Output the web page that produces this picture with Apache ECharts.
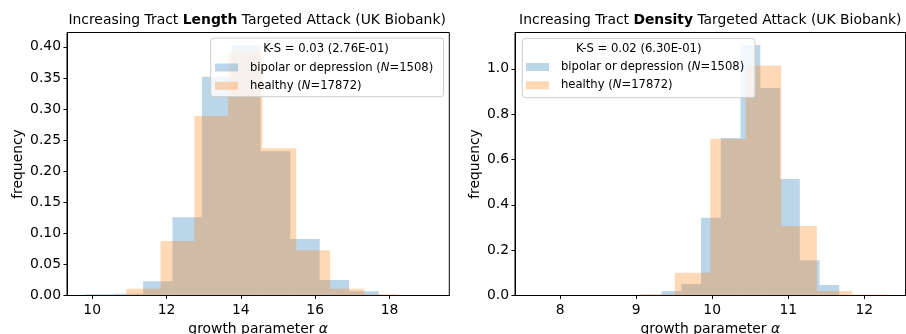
<!DOCTYPE html>
<html>
<head>
<meta charset="utf-8">
<script src="https://cdn.jsdelivr.net/npm/echarts@6/dist/echarts.min.js"></script>
<style>
html,body{margin:0;padding:0;background:#fff;}
#chart{width:906px;height:334px;}
</style>
</head>
<body>
<div id="chart"></div>
<script>
// ---------------- data ----------------
const seriesNames = ['bipolar or depression (N=1508)', 'healthy (N=17872)'];
const titleLeft = ['Increasing Tract ', 'Length', ' Targeted Attack (UK Biobank)'];
const titleRight = ['Increasing Tract ', 'Density', ' Targeted Attack (UK Biobank)'];
const ksLeft = 'K-S = 0.03 (2.76E-01)';
const ksRight = 'K-S = 0.02 (6.30E-01)';

// Left panel: tract length attack
const blueEdgesL = [9.79, 10.58, 11.37, 12.16, 12.95, 13.74, 14.53, 15.33, 16.12, 16.91, 17.71];
const blueFreqL = [0.002, 0.003, 0.023, 0.126, 0.352, 0.403, 0.232, 0.091, 0.025, 0.007];
const orangeEdgesL = [10.01, 10.92, 11.84, 12.75, 13.66, 14.58, 15.49, 16.40, 17.32, 18.23, 19.14];
const orangeFreqL = [0.0005, 0.011, 0.0875, 0.289, 0.393, 0.237, 0.073, 0.011, 0.002, 0.0005];

// Right panel: tract density attack
const blueEdgesR = [9.074, 9.334, 9.594, 9.853, 10.113, 10.373, 10.633, 10.892, 11.152, 11.412, 11.671];
const blueFreqR = [0.003, 0.02, 0.051, 0.343, 0.695, 1.105, 0.915, 0.514, 0.156, 0.046];
const orangeEdgesR = [7.64, 8.107, 8.574, 9.041, 9.508, 9.975, 10.442, 10.909, 11.376, 11.843, 12.31];
const orangeFreqR = [0.0001, 0, 0, 0.005, 0.10, 0.69, 1.015, 0.307, 0.02, 0.004];

// tick labels
const xTicksL = [10, 12, 14, 16, 18];
const yTicksL = [0, 0.05, 0.10, 0.15, 0.20, 0.25, 0.30, 0.35, 0.40];
const xTicksR = [8, 9, 10, 11, 12];
const yTicksR = [0, 0.2, 0.4, 0.6, 0.8, 1.0];

// ---------------- styling ----------------
const FONT = 'DejaVu Sans';
const BLUE = 'rgba(31,119,180,0.3)';
const ORANGE = 'rgba(255,127,14,0.3)';
const AX = '#000';

function pad(lo, hi) { const r = hi - lo; return [lo - 0.05 * r, hi + 0.05 * r]; }
const xExtL = pad(Math.min(blueEdgesL[0], orangeEdgesL[0]), Math.max(blueEdgesL[blueEdgesL.length-1], orangeEdgesL[orangeEdgesL.length-1]));
const xExtR = pad(Math.min(blueEdgesR[0], orangeEdgesR[0]), Math.max(blueEdgesR[blueEdgesR.length-1], orangeEdgesR[orangeEdgesR.length-1]));
const yMaxL = Math.max(...blueFreqL, ...orangeFreqL) * 1.05;
const yMaxR = Math.max(...blueFreqR, ...orangeFreqR) * 1.05;

function hist(name, edges, freq, idx, color) {
  return {
    type: 'custom', name: name, xAxisIndex: idx, yAxisIndex: idx,
    data: freq.map((f, i) => [edges[i], edges[i+1], f]),
    encode: { x: [0, 1], y: 2 },
    itemStyle: { color: color },
    silent: true, clip: true, z: 2,
    renderItem: function (params, api) {
      const p0 = api.coord([api.value(0), api.value(2)]);
      const p1 = api.coord([api.value(1), 0]);
      return { type: 'rect', shape: { x: p0[0], y: p0[1], width: p1[0] - p0[0], height: p1[1] - p0[1] },
               style: { fill: color } };
    }
  };
}

function xAxis(idx, ext, ticks) {
  return {
    type: 'value', gridIndex: idx, min: ext[0], max: ext[1],
    splitLine: { show: false },
    axisLine: { show: true, onZero: false, lineStyle: { color: AX, width: 1 } },
    axisTick: { show: true, length: 3.5, inside: false, customValues: ticks, lineStyle: { color: AX } },
    axisLabel: { customValues: ticks, margin: 8, color: '#000', fontFamily: FONT, fontSize: 13.9,
                 formatter: v => String(Math.round(v)) },
    name: '{r|growth parameter }{i|α}', nameLocation: 'middle', nameGap: 24,
    nameTextStyle: { color: '#000', fontFamily: FONT, fontSize: 13.9,
      rich: { r: { fontFamily: FONT, fontSize: 13.9, color: '#000' },
              i: { fontFamily: FONT, fontSize: 13.9, fontStyle: 'italic', color: '#000' } } }
  };
}
function yAxis(idx, max, ticks, dec, gap) {
  return {
    type: 'value', gridIndex: idx, min: 0, max: max,
    splitLine: { show: false },
    axisLine: { show: true, lineStyle: { color: AX, width: 1 } },
    axisTick: { show: true, length: 3.5, inside: false, customValues: ticks, lineStyle: { color: AX } },
    axisLabel: { customValues: ticks, margin: 6, color: '#000', fontFamily: FONT, fontSize: 13.9,
                 formatter: v => v.toFixed(dec) },
    name: 'frequency', nameLocation: 'middle', nameGap: gap, nameRotate: 90,
    nameTextStyle: { color: '#000', fontFamily: FONT, fontSize: 13.9 }
  };
}

function richName(n) {
  const m = n.match(/^(.*\()N(=.*)$/);
  return '{s| }{r|' + m[1] + '}{i|N}{r|' + m[2] + '}';
}
const legendRich = {
  s: { width: 7, fontSize: 11.6, lineHeight: 14 },
  r: { fontFamily: FONT, fontSize: 11.6, color: '#000', lineHeight: 14 },
  i: { fontFamily: FONT, fontSize: 11.6, fontStyle: 'italic', color: '#000', lineHeight: 14 }
};
function legend(left, top) {
  return {
    orient: 'vertical', left: left, top: top, z: 120, padding: 0,
    itemWidth: 23, itemHeight: 8, itemGap: 6.3, icon: 'rect', selectedMode: false,
    data: [
      { name: seriesNames[0], itemStyle: { color: BLUE, borderWidth: 0 } },
      { name: seriesNames[1], itemStyle: { color: ORANGE, borderWidth: 0 } }
    ],
    formatter: richName,
    textStyle: { fontFamily: FONT, fontSize: 11.6, color: '#000', rich: legendRich }
  };
}
function titleRich(parts, cx) {
  return {
    text: '{n|' + parts[0] + '}{b|' + parts[1] + '}{n|' + parts[2] + '}',
    left: cx, top: 13, textAlign: 'center', padding: 0,
    textStyle: { fontFamily: FONT, fontSize: 13.9, color: '#000', fontWeight: 'normal',
      rich: { n: { fontFamily: FONT, fontSize: 13.9, fontWeight: 'normal', color: '#000' },
              b: { fontFamily: FONT, fontSize: 13.9, fontWeight: 'bold', color: '#000' } } }
  };
}

const gridBase = { show: true, borderColor: AX, borderWidth: 1, backgroundColor: 'transparent',
                   containLabel: false, outerBoundsMode: 'none' };
const gridL = { left: 67, top: 32.5, width: 382.3, height: 263 };
const gridR = { left: 515, top: 32.5, width: 390.6, height: 263 };

const option = {
  backgroundColor: '#fff',
  animation: false,
  title: [ titleRich(titleLeft, gridL.left + gridL.width / 2 - 1), titleRich(titleRight, gridR.left + gridR.width / 2) ],
  grid: [ Object.assign({}, gridBase, gridL), Object.assign({}, gridBase, gridR) ],
  xAxis: [ xAxis(0, xExtL, xTicksL), xAxis(1, xExtR, xTicksR) ],
  yAxis: [ yAxis(0, yMaxL, yTicksL, 2, 42), yAxis(1, yMaxR, yTicksR, 1, 33) ],
  legend: [ legend(215, 61.5), legend(526, 61) ],
  graphic: [
    { type: 'rect', z: 100, shape: { x: 210.7, y: 38, width: 232.8, height: 58.7, r: 3 },
      style: { fill: 'rgba(255,255,255,0.8)', stroke: '#cccccc', lineWidth: 1 } },
    { type: 'text', z: 121, x: 326, y: 48.5,
      style: { text: ksLeft, font: '11.6px "DejaVu Sans"', fill: '#000', textAlign: 'center', textVerticalAlign: 'middle' } },
    { type: 'rect', z: 100, shape: { x: 522.3, y: 38.3, width: 232.7, height: 59.4, r: 3 },
      style: { fill: 'rgba(255,255,255,0.8)', stroke: '#cccccc', lineWidth: 1 } },
    { type: 'text', z: 121, x: 638.7, y: 48.5,
      style: { text: ksRight, font: '11.6px "DejaVu Sans"', fill: '#000', textAlign: 'center', textVerticalAlign: 'middle' } }
  ],
  series: [
    hist(seriesNames[0], blueEdgesL, blueFreqL, 0, BLUE),
    hist(seriesNames[1], orangeEdgesL, orangeFreqL, 0, ORANGE),
    hist(seriesNames[0], blueEdgesR, blueFreqR, 1, BLUE),
    hist(seriesNames[1], orangeEdgesR, orangeFreqR, 1, ORANGE)
  ]
};

const chart = echarts.init(document.getElementById('chart'), null, { renderer: 'canvas' });
chart.setOption(option);
</script>
</body>
</html>
